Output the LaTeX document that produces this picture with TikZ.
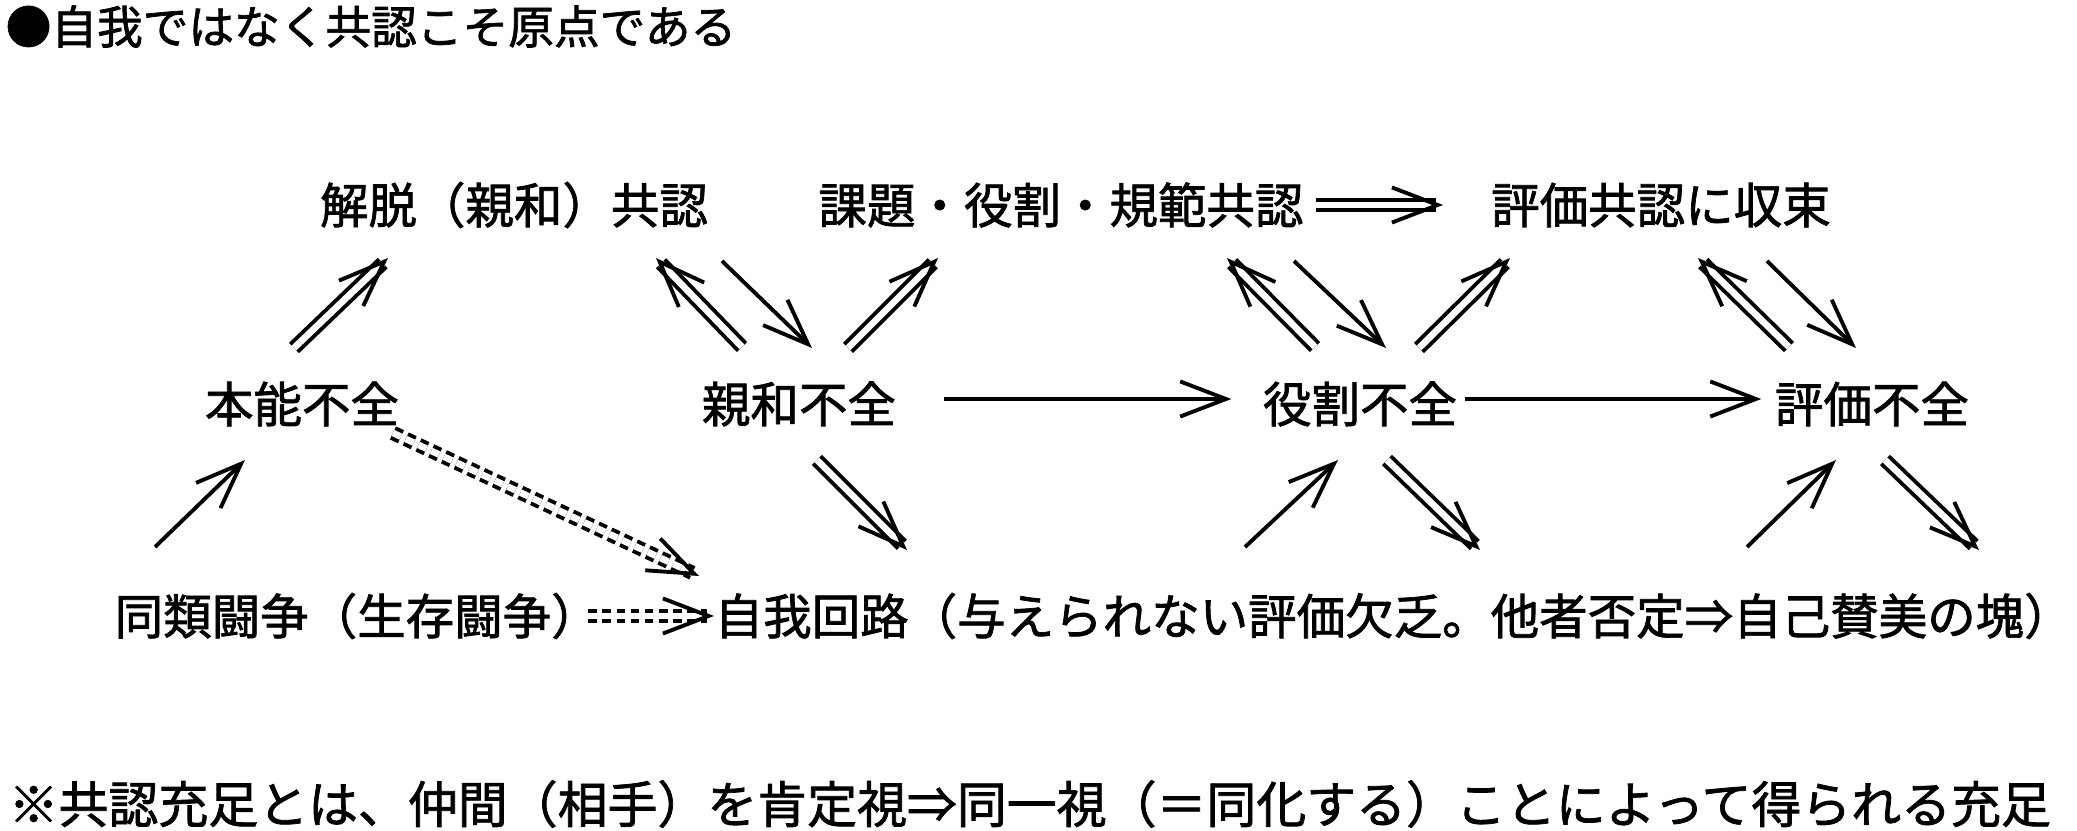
\documentclass[tikz,border=0pt]{standalone}
\usepackage{fontspec}
\setmainfont{Noto Sans CJK JP}[FakeBold=1.5]
\usetikzlibrary{arrows.meta}

\begin{document}
\begin{tikzpicture}[
    lbl/.style={inner sep=0pt, font=\fontsize{13.8}{16}\selectfont},
    sgl/.style={line width=1.1pt, -{Straight Barb[length=13pt, width=10pt]}},
    dbl/.style={double, double distance=1.9pt, line width=1.1pt, -{Straight Barb[length=13pt, width=10pt]}},
    dsh/.style={dbl, dash pattern=on 2.5pt off 1.5pt}]

    \useasboundingbox (0,0) rectangle (20.77,8.31);

    \node[lbl, anchor=west, font=\fontsize{13}{15}\selectfont] (title) at (0.05,8.045) {●自我ではなく共認こそ原点である};

    % top row
    \node[lbl] (kaidatsu) at (5.14,6.26) {解脱（親和）共認};
    \node[lbl] (kadai) at (10.61,6.26) {課題・役割・規範共認};
    \node[lbl] (shusoku) at (16.61,6.26) {評価共認に収束};

    % middle row
    \node[lbl] (honno) at (3.02,4.27) {本能不全};
    \node[lbl] (shinwa) at (7.99,4.27) {親和不全};
    \node[lbl] (yakuwari) at (13.60,4.27) {役割不全};
    \node[lbl] (hyoka) at (18.72,4.27) {評価不全};

    % bottom row
    \node[lbl, anchor=west] (doui) at (1.14,2.15) {同類闘争（生存闘争）};
    \node[lbl, anchor=west] (jiga) at (7.14,2.15) {自我回路（与えられない評価欠乏。他者否定⇒自己賛美の塊）};

    \node[lbl, anchor=west, font=\fontsize{14.2}{16}\selectfont] (note) at (0.08,0.27) {※共認充足とは、仲間（相手）を肯定視⇒同一視（＝同化する）ことによって得られる充足};

    % middle to top
    \draw[dbl] ([shift={(-0.08,0.56)}]honno.center) -- ([shift={(-1.26,-0.53)}]kaidatsu.center);
    \draw[dbl] ([shift={(-0.57,0.57)}]shinwa.center) -- ([shift={(1.42,-0.53)}]kaidatsu.center);
    \draw[sgl] ([shift={(2.08,-0.56)}]kaidatsu.center) -- ([shift={(0.13,0.56)}]shinwa.center);
    \draw[dbl] ([shift={(0.49,0.56)}]shinwa.center) -- ([shift={(-1.23,-0.53)}]kadai.center);
    \draw[dbl] ([xshift=0.12cm]kadai.east) -- ([xshift=-0.475cm]shusoku.west);
    \draw[dbl] ([shift={(-0.45,0.57)}]yakuwari.center) -- ([shift={(1.66,-0.53)}]kadai.center);
    \draw[sgl] ([shift={(2.33,-0.56)}]kadai.center) -- ([shift={(0.26,0.56)}]yakuwari.center);
    \draw[dbl] ([shift={(0.59,0.56)}]yakuwari.center) -- ([shift={(-1.51,-0.53)}]shusoku.center);
    \draw[dbl] ([shift={(-0.83,0.57)}]hyoka.center) -- ([shift={(0.37,-0.53)}]shusoku.center);
    \draw[sgl] ([shift={(1.06,-0.56)}]shusoku.center) -- ([shift={(-0.16,0.56)}]hyoka.center);

    % along the middle row
    \draw[sgl] ([shift={(0.47,0.05)}]shinwa.east) -- ([shift={(-0.31,0.05)}]yakuwari.west);
    \draw[sgl] ([shift={(0.07,0.05)}]yakuwari.east) -- ([shift={(-0.13,0.05)}]hyoka.west);

    % bottom to middle
    \draw[sgl] ([shift={(0.41,0.69)}]doui.west) -- ([shift={(-0.57,-0.56)}]honno.center);
    \draw[dsh] ([shift={(0.91,-0.29)}]honno.center) -- ([shift={(-0.15,0.40)}]jiga.west);
    \draw[dsh] ([xshift=-0.12cm]doui.east) -- (jiga.west);
    \draw[dbl] ([shift={(0.18,-0.56)}]shinwa.center) -- ([shift={(1.93,0.66)}]jiga.west);
    \draw[sgl] ([shift={(5.31,0.69)}]jiga.west) -- ([shift={(-0.22,-0.56)}]yakuwari.center);
    \draw[dbl] ([shift={(0.27,-0.56)}]yakuwari.center) -- ([shift={(7.66,0.66)}]jiga.west);
    \draw[sgl] ([shift={(10.33,0.69)}]jiga.west) -- ([shift={(-0.36,-0.56)}]hyoka.center);
    \draw[dbl] ([shift={(0.13,-0.56)}]hyoka.center) -- ([shift={(12.65,0.66)}]jiga.west);
\end{tikzpicture}
\end{document}
